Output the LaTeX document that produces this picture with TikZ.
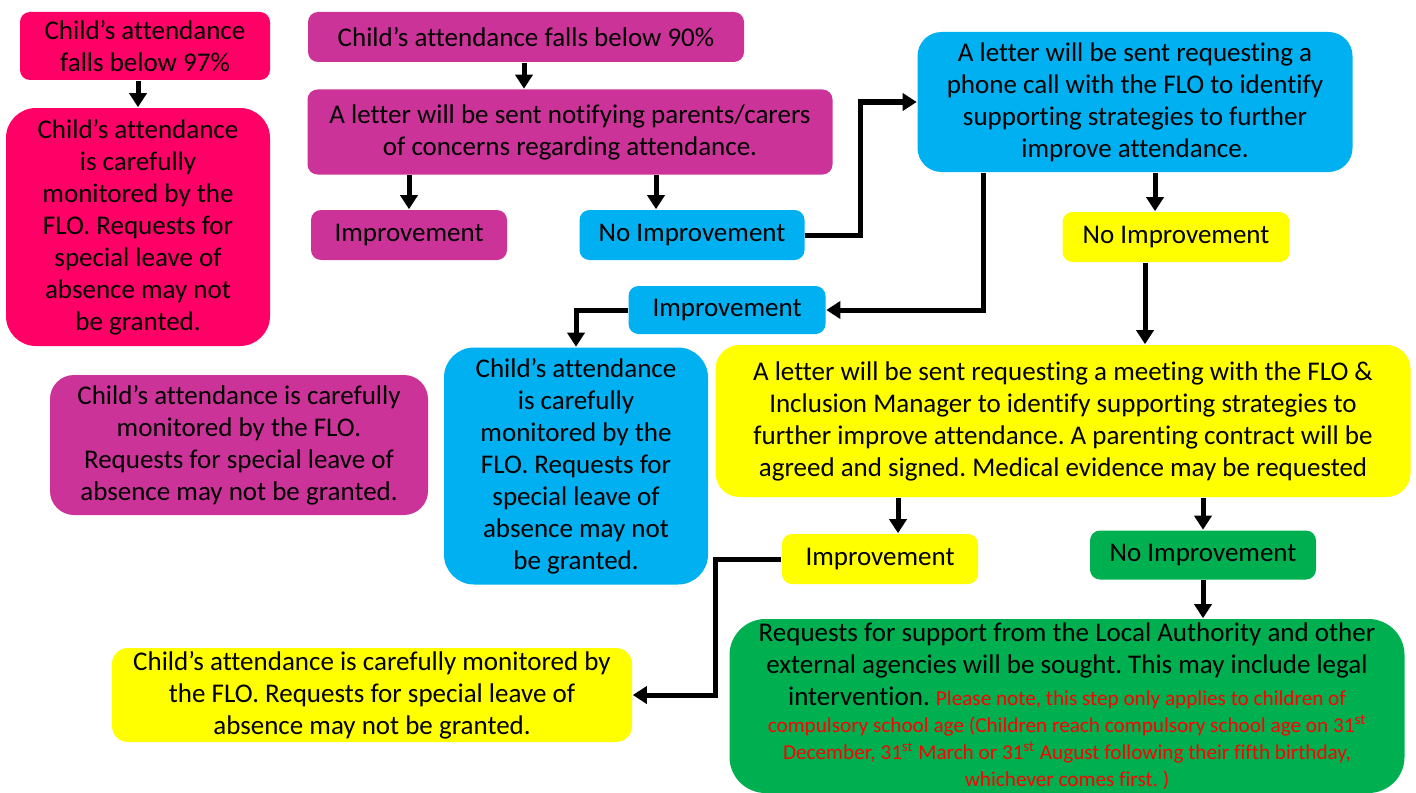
\documentclass[tikz,border=0pt]{standalone}
\usepackage{fontspec}
\setmainfont{Carlito}[Ligatures=NoCommon]
\usetikzlibrary{arrows.meta}
\frenchspacing
\definecolor{pinkbox}{HTML}{FF0066}
\definecolor{purplebox}{HTML}{CC3399}
\definecolor{bluebox}{HTML}{00B0F0}
\definecolor{yellowbox}{HTML}{FFFF00}
\definecolor{greenbox}{HTML}{00B050}
\definecolor{notered}{HTML}{FF0000}
\newcommand{\notetext}[1]{{\color{notered}\fontsize{10.6}{12}\selectfont #1}}
\begin{document}
\begin{tikzpicture}[x=0.5pt, y=-0.5pt, thick]
\tikzstyle{box}=[rounded corners=5pt, inner sep=0pt, align=center, font=\fontsize{13.5}{16}\selectfont]
\tikzstyle{arr}=[line width=2.5pt, -{Triangle[width=8.5pt,length=7pt]}]
\useasboundingbox (0,0) rectangle (1416,792);
  % 97% column
  \node[box, fill=pinkbox, minimum width=125pt, minimum height=34pt] (a) at (145,46)
    {Child’s attendance\\falls below 97\%};
  \node[box, fill=pinkbox, rounded corners=15pt, minimum width=132pt, minimum height=119pt] (b) at (138,227)
    {Child’s attendance\\is carefully\\monitored by the\\FLO. Requests for\\special leave of\\absence may not\\be granted.};
  % 90% column
  \node[box, fill=purplebox, minimum width=218pt, minimum height=25pt] (c) at (526,37)
    {Child’s attendance falls below 90\%};
  \node[box, fill=purplebox, minimum width=262.5pt, minimum height=42.5pt] (d) at (570,132)
    {A letter will be sent notifying parents/carers\\of concerns regarding attendance.};
  \node[box, fill=purplebox, minimum width=98pt, minimum height=25pt] (e) at (409,235) {Improvement};
  \node[box, fill=bluebox, minimum width=112.5pt, minimum height=25pt] (f) at (692,235) {No Improvement};
  \node[box, fill=purplebox, rounded corners=12pt, minimum width=189pt, minimum height=70pt] (k) at (239,445)
    {Child’s attendance is carefully\\monitored by the FLO.\\Requests for special leave of\\absence may not be granted.};
  % phone call
  \node[box, fill=bluebox, rounded corners=12pt, minimum width=217.5pt, minimum height=70pt] (g) at (1135,102)
    {A letter will be sent requesting a\\phone call with the FLO to identify\\supporting strategies to further\\improve attendance.};
  \node[box, fill=yellowbox, minimum width=113.5pt, minimum height=25pt] (h) at (1176,237) {No Improvement};
  \node[box, fill=bluebox, minimum width=98.5pt, minimum height=24pt] (i) at (727,310) {Improvement};
  \node[box, fill=bluebox, rounded corners=15pt, minimum width=132pt, minimum height=118.5pt] (j) at (576,466)
    {Child’s attendance\\is carefully\\monitored by the\\FLO. Requests for\\special leave of\\absence may not\\be granted.};
  % meeting
  \node[box, fill=yellowbox, rounded corners=12pt, minimum width=347.5pt, minimum height=76pt] (l) at (1063,421)
    {A letter will be sent requesting a meeting with the FLO \&\\Inclusion Manager to identify supporting strategies to\\further improve attendance. A parenting contract will be\\agreed and signed. Medical evidence may be requested};
  \node[box, fill=yellowbox, minimum width=98pt, minimum height=25pt] (m) at (880,559) {Improvement};
  \node[box, fill=greenbox, minimum width=113pt, minimum height=24.5pt] (n) at (1203,555) {No Improvement};
  \node[box, fill=yellowbox, rounded corners=8pt, minimum width=260pt, minimum height=47pt] (o) at (372,695)
    {Child’s attendance is carefully monitored by\\the FLO. Requests for special leave of\\absence may not be granted.};
  \node[box, fill=greenbox, rounded corners=18pt, minimum width=337.5pt, minimum height=87pt] (p) at (1067,706)
    {Requests for support from the Local Authority and other\\external agencies will be sought. This may include legal\\intervention. \notetext{Please note, this step only applies to children of}\\[-2.5pt]
     \notetext{compulsory school age (Children reach compulsory school age on 31\textsuperscript{st}}\\[-2.5pt]
     \notetext{December, 31\textsuperscript{st} March or 31\textsuperscript{st} August following their fifth birthday,}\\[-2.5pt]
     \notetext{whichever comes first. )}};
  % connectors
  \draw[arr] (b.north |- a.south) -- (b.north);
  \draw[arr] ([xshift=-23pt]d.north |- c.south) -- ([xshift=-23pt]d.north);
  \draw[arr] (e.north |- d.south) -- (e.north);
  \draw[arr] ([xshift=-18pt]f.north |- d.south) -- ([xshift=-18pt]f.north);
  \draw[arr] (f.east) -- ++(27.5pt,0) |- (g.west);
  \draw[arr] ([xshift=-76pt]g.south) |- (i.east);
  \draw[arr] ([xshift=-10.5pt]h.north |- g.south) -- ([xshift=-10.5pt]h.north);
  \draw[arr] ([xshift=-15.5pt]h.south) -- ([xshift=-15.5pt]h.south |- l.north);
  \draw[arr] (i.west) -| (j.north);
  \draw[arr] ([xshift=9pt]m.north |- l.south) -- ([xshift=9pt]m.north);
  \draw[arr] (n.north |- l.south) -- (n.north);
  \draw[arr] (m.west) -- ++(-33pt,0) |- (o.east);
  \draw[arr] (n.south) -- (n.south |- p.north);
\end{tikzpicture}
\end{document}
